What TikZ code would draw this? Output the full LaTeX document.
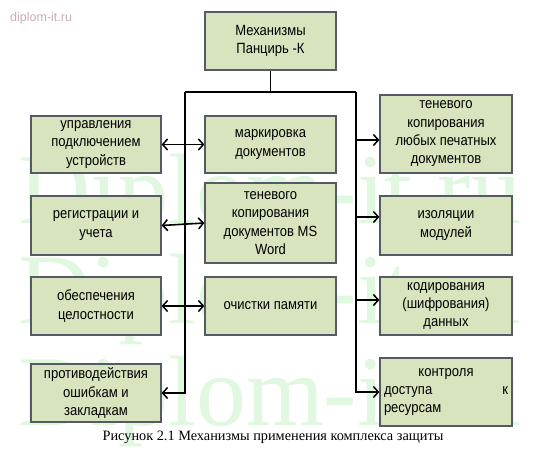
\documentclass[tikz,border=0pt]{standalone}
\usepackage{fontspec}
\setmainfont{Liberation Sans}
\newfontfamily\boxfont[FakeStretch=0.88]{Liberation Sans}
\newfontfamily\capfont{Liberation Serif}
\usetikzlibrary{shapes,arrows,arrows.meta,positioning,calc}
\definecolor{boxfill}{RGB}{215,228,189}
\definecolor{boxline}{RGB}{85,90,100}
\definecolor{wmcolor}{RGB}{224,247,224}
\definecolor{sitecolor}{RGB}{205,172,180}

\begin{document}
\begin{tikzpicture}[x=1pt, y=-1pt,
    box/.style={rectangle, draw=boxline, line width=1.2pt, fill=boxfill, align=center, inner sep=2pt, font=\boxfont\fontsize{14.8}{18.3}\selectfont},
    leftbox/.style={box, minimum width=130pt, minimum height=58pt},
    midbox/.style={box, minimum width=131pt, minimum height=58pt},
    rightbox/.style={box, minimum width=132pt, minimum height=59pt},
    wmark/.style={anchor=base west, inner sep=0pt, text=wmcolor, font=\capfont\fontsize{100}{100}\selectfont},
    line/.style={line width=1.6pt},
    arrow/.style={->, >={Straight Barb[length=5pt, width=11pt, line width=1.5pt]}, line width=1.6pt}
]
\useasboundingbox (0,0) rectangle (551,460);
\fill[white] (0,0) rectangle (551,460);

% Watermark
\node[wmark] (wm1) at (18,223) {Diplom-it.ru};
\node[wmark] (wm2) at (18,323) {Diplom-it.ru};
\node[wmark] (wm3) at (18,425) {Diplom-it.ru};
\node[anchor=west, inner sep=0pt, text=sitecolor, font=\fontsize{12.5}{14}\selectfont] (site) at (10,18) {diplom-it.ru};

% Top
\node[box, minimum width=131pt, minimum height=58pt] (top) at (270.5,41) {Механизмы\\Панцирь -К};

% Left column
\node[leftbox, minimum height=57pt] (L1) at (96,144.5) {управления\\подключением\\устройств};
\node[leftbox, minimum height=59pt] (L2) at (96,225.5) {регистрации и\\учета};
\node[leftbox] (L3) at (96,306) {обеспечения\\целостности};
\node[leftbox] (L4) at (96,393) {противодействия\\ошибкам и\\закладкам};

% Middle column
\node[midbox, minimum height=57pt] (M1) at (270.5,144.5) {маркировка\\документов};
\node[midbox, minimum height=80pt] (M2) at (270.5,223) {теневого\\копирования\\документов MS\\Word};
\node[midbox] (M3) at (270.5,306) {очистки памяти};

% Right column
\node[rightbox, minimum height=78pt] (R1) at (446,134) {теневого\\копирования\\любых печатных\\документов};
\node[rightbox] (R2) at (446,225.5) {изоляции\\модулей};
\node[rightbox, minimum height=58pt] (R3) at (446,306) {кодирования\\(шифрования)\\данных};
\node[rightbox, minimum height=68pt] (R4) at (446,392) {контроля\\\makebox[124pt]{доступа\hfill к}\\\makebox[124pt][l]{ресурсам}};

% Trunks
\coordinate (jL) at (185,92);
\coordinate (jR) at (356,92);
\draw[line] (top.south) -- (top.south |- jL);
\draw[line] (jL) -- (jR);
\draw[arrow] (jL) |- (L4.east);
\draw[arrow] (jR) |- (R4.west);

% Links
\draw[arrow, <->] (L1.east) -- (M1.west);
\draw[arrow, <->] (L2.east) -- (M2.west);
\draw[arrow, <->] (L3.east) -- (M3.west);
\coordinate (r1) at (356,140);
\coordinate (r2) at (356,217);
\coordinate (r3) at (356,300);
\draw[arrow] (r1) -- (r1 -| R1.west);
\draw[arrow] (r2) -- (r2 -| R2.west);
\draw[arrow] (r3) -- (r3 -| R3.west);

% Caption
\node[font=\capfont\fontsize{14.3}{16}\selectfont] (caption) at (273,437) {Рисунок 2.1 Механизмы применения комплекса защиты};

\end{tikzpicture}
\end{document}
